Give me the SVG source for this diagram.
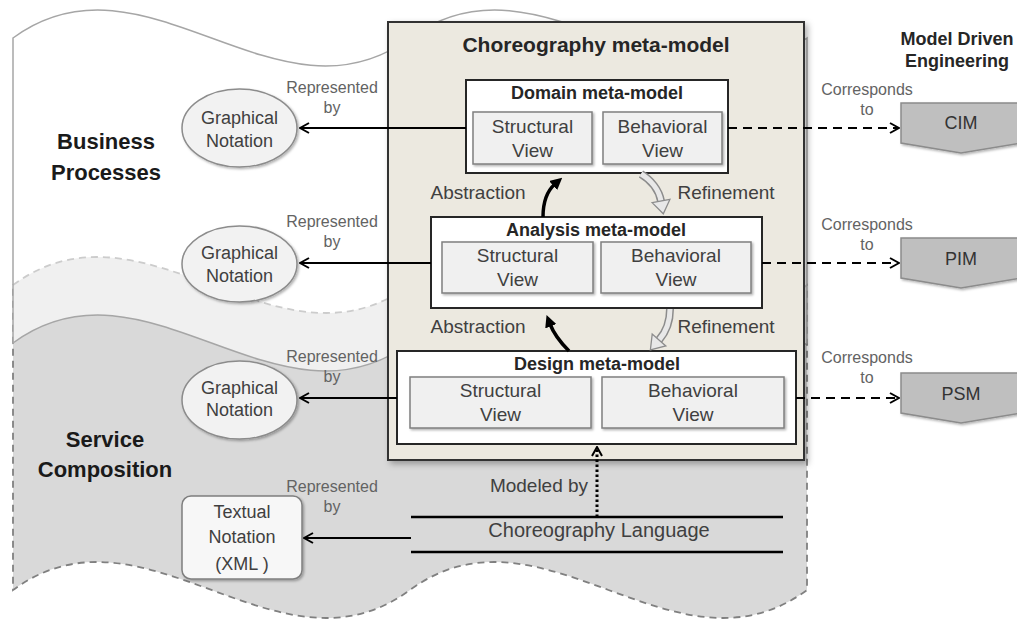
<svg xmlns="http://www.w3.org/2000/svg" width="1017" height="622" viewBox="0 0 1017 622">
<defs>
<style>
text{font-family:"Liberation Sans",Arial,sans-serif}
.ttl{font-weight:bold;fill:#262626;text-anchor:middle}
.view{font-size:19px;fill:#404040;text-anchor:middle}
.lbl{font-size:16px;fill:#636363;text-anchor:middle}
.note{font-size:18px;fill:#404040;text-anchor:middle}
.reg{font-size:22px;font-weight:bold;fill:#1a1a1a;text-anchor:middle}
.mm{fill:#ffffff;stroke:#262626;stroke-width:2}
.vw{fill:#f0f0f0;stroke:#7f7f7f;stroke-width:1.5}
.ell{fill:#f2f2f2;stroke:#8c8c8c;stroke-width:1.5}
.pent{fill:#bfbfbf;stroke:#8c8c8c;stroke-width:1.5}
.arr{fill:none;stroke:#000;stroke-width:2}
.dash{fill:none;stroke:#000;stroke-width:2.2;stroke-dasharray:9 6}
.rout{fill:none;stroke:#8c8c8c;stroke-width:8}
.rin{fill:none;stroke:#e8e8e8;stroke-width:5}
.rhead{fill:#e8e8e8;stroke:#8c8c8c;stroke-width:1.3}
</style>
<filter id="sh" x="-5%" y="-5%" width="115%" height="115%"><feDropShadow dx="3" dy="3" stdDeviation="3" flood-color="#000" flood-opacity="0.3"/></filter>
<filter id="sh2" x="-10%" y="-10%" width="130%" height="130%"><feDropShadow dx="1.5" dy="1.5" stdDeviation="1" flood-color="#000" flood-opacity="0.3"/></filter>
<marker id="open" viewBox="0 0 12 12" refX="11" refY="6" markerWidth="12" markerHeight="12" markerUnits="userSpaceOnUse" orient="auto"><path d="M2,1 L11,6 L2,11" fill="none" stroke="#000" stroke-width="2"/></marker>
<marker id="solid" viewBox="0 0 10 10" refX="2" refY="5" markerWidth="12" markerHeight="12" markerUnits="userSpaceOnUse" orient="auto"><path d="M0,0 L10,5 L0,10 z" fill="#000"/></marker>
</defs>

<!-- background regions -->
<path id="service-region" d="M13,285 C145.3,188 277.7,382 410,285 C542.3,188 674.7,382 807,285 L807,590 C674.7,687 542.3,493 410,590 C277.7,687 145.3,493 13,590 Z" fill="#d9d9d9" stroke="#808080" stroke-width="1.8" stroke-dasharray="7 5"/>
<path id="business-region" d="M13,38 C145.3,-59 277.7,135 410,38 C542.3,-59 674.7,135 807,38 L807,343 C674.7,440 542.3,246 410,343 C277.7,440 145.3,246 13,343 Z" fill="#ffffff" fill-opacity="0.6" stroke="#a6a6a6" stroke-width="1.5"/>

<g id="business-processes-label">
<text class="reg" x="106" y="149">Business</text>
<text class="reg" x="106" y="180">Processes</text>
</g>
<g id="service-composition-label">
<text class="reg" x="105" y="447">Service</text>
<text class="reg" x="105" y="477">Composition</text>
</g>
<g id="mde-label">
<text class="ttl" style="font-size:18px" x="957" y="45">Model Driven</text>
<text class="ttl" style="font-size:18px" x="957" y="67">Engineering</text>
</g>

<g id="choreography-metamodel">
<rect x="388" y="22" width="416" height="438" fill="#ece9e0" stroke="#333" stroke-width="2" filter="url(#sh)"/>
<text class="ttl" style="font-size:21px" x="596" y="52">Choreography meta-model</text>
</g>

<g id="domain-metamodel">
<rect class="mm" x="466" y="80" width="262" height="93"/>
<text class="ttl" style="font-size:18px" x="597" y="99">Domain meta-model</text>
<rect class="vw" x="473" y="112" width="119" height="52" filter="url(#sh2)"/>
<text class="view" x="532.5" y="133">Structural</text>
<text class="view" x="532.5" y="157">View</text>
<rect class="vw" x="603" y="112" width="119" height="52" filter="url(#sh2)"/>
<text class="view" x="662.5" y="133">Behavioral</text>
<text class="view" x="662.5" y="157">View</text>
</g>

<g id="analysis-metamodel">
<rect class="mm" x="431" y="217" width="331" height="91"/>
<text class="ttl" style="font-size:18px" x="596" y="236">Analysis meta-model</text>
<rect class="vw" x="442" y="242" width="151" height="51" filter="url(#sh2)"/>
<text class="view" x="517.5" y="262">Structural</text>
<text class="view" x="517.5" y="286">View</text>
<rect class="vw" x="601" y="242" width="150" height="51" filter="url(#sh2)"/>
<text class="view" x="676" y="262">Behavioral</text>
<text class="view" x="676" y="286">View</text>
</g>

<g id="design-metamodel">
<rect class="mm" x="397" y="351" width="399" height="93"/>
<text class="ttl" style="font-size:18px" x="597" y="370">Design meta-model</text>
<rect class="vw" x="410" y="377" width="181" height="51" filter="url(#sh2)"/>
<text class="view" x="500.5" y="397">Structural</text>
<text class="view" x="500.5" y="421">View</text>
<rect class="vw" x="602" y="377" width="182" height="51" filter="url(#sh2)"/>
<text class="view" x="693" y="397">Behavioral</text>
<text class="view" x="693" y="421">View</text>
</g>

<g id="graphical-notation-1">
<ellipse class="ell" cx="239.5" cy="128" rx="57.5" ry="39" filter="url(#sh2)"/>
<text class="note" x="239.5" y="124">Graphical</text>
<text class="note" x="239.5" y="147">Notation</text>
</g>
<g id="graphical-notation-2">
<ellipse class="ell" cx="239.5" cy="264" rx="57.5" ry="38" filter="url(#sh2)"/>
<text class="note" x="239.5" y="259">Graphical</text>
<text class="note" x="239.5" y="282">Notation</text>
</g>
<g id="graphical-notation-3">
<ellipse class="ell" cx="239.5" cy="400" rx="57.5" ry="39" filter="url(#sh2)"/>
<text class="note" x="239.5" y="394">Graphical</text>
<text class="note" x="239.5" y="416">Notation</text>
</g>
<g id="textual-notation">
<rect x="182" y="496" width="120" height="83" rx="9" fill="#f7f7f7" stroke="#7f7f7f" stroke-width="1.5" filter="url(#sh2)"/>
<text class="note" x="242" y="518">Textual</text>
<text class="note" x="242" y="543">Notation</text>
<text class="note" x="242" y="570">(XML )</text>
</g>

<g id="cim">
<polygon class="pent" points="901,103 1022,103 1022,143 961,153 901,143" filter="url(#sh2)"/>
<text class="note" style="fill:#333" x="961" y="129">CIM</text>
</g>
<g id="pim">
<polygon class="pent" points="901,238 1022,238 1022,278 961,288 901,278" filter="url(#sh2)"/>
<text class="note" style="fill:#333" x="961" y="265">PIM</text>
</g>
<g id="psm">
<polygon class="pent" points="901,373 1022,373 1022,413 961,423 901,413" filter="url(#sh2)"/>
<text class="note" style="fill:#333" x="961" y="400">PSM</text>
</g>

<g id="choreography-language">
<line x1="411" y1="517" x2="783" y2="517" stroke="#000" stroke-width="2.5"/>
<line x1="411" y1="552" x2="783" y2="552" stroke="#000" stroke-width="2.5"/>
<text x="599" y="537" style="font-size:20px;fill:#404040;text-anchor:middle">Choreography Language</text>
</g>

<g id="connectors">
<line class="arr" x1="466" y1="128" x2="300" y2="128" marker-end="url(#open)"/>
<line class="arr" x1="431" y1="263" x2="300" y2="263" marker-end="url(#open)"/>
<line class="arr" x1="397" y1="398" x2="300" y2="398" marker-end="url(#open)"/>
<line class="arr" x1="411" y1="538" x2="304" y2="538" marker-end="url(#open)"/>
<line class="dash" x1="728" y1="128" x2="899" y2="128" marker-end="url(#open)"/>
<line class="dash" x1="762" y1="263" x2="899" y2="263" marker-end="url(#open)"/>
<line class="dash" x1="796" y1="398" x2="899" y2="398" marker-end="url(#open)"/>
<line x1="597" y1="517" x2="597" y2="447" fill="none" stroke="#000" stroke-width="3" stroke-dasharray="2.5 2.5" marker-end="url(#open)"/>
<path d="M543,217 C543,202 547,191 555,184" fill="none" stroke="#000" stroke-width="3.5" marker-end="url(#solid)"/>
<path d="M569,351 Q555,337 550,324" fill="none" stroke="#000" stroke-width="3.5" marker-end="url(#solid)"/>
<path class="rout" d="M641,174 C651,180 659,190 661,201"/>
<path class="rin" d="M641,174 C651,180 659,190 661,201"/>
<polygon class="rhead" points="652.1,202.6 663.3,213.8 669.9,199.4"/>
<path class="rout" d="M670,309 C670,322 666,332 659,340"/>
<path class="rin" d="M670,309 C670,322 666,332 659,340"/>
<polygon class="rhead" points="652.2,334.1 650.4,349.8 665.8,345.9"/>
</g>

<g id="connector-labels">
<text class="lbl" x="332" y="93">Represented</text>
<text class="lbl" x="332" y="113">by</text>
<text class="lbl" x="332" y="227">Represented</text>
<text class="lbl" x="332" y="247">by</text>
<text class="lbl" x="332" y="362">Represented</text>
<text class="lbl" x="332" y="382">by</text>
<text class="lbl" x="332" y="492">Represented</text>
<text class="lbl" x="332" y="512">by</text>
<text class="lbl" x="867" y="95">Corresponds</text>
<text class="lbl" x="867" y="115">to</text>
<text class="lbl" x="867" y="230">Corresponds</text>
<text class="lbl" x="867" y="250">to</text>
<text class="lbl" x="867" y="363">Corresponds</text>
<text class="lbl" x="867" y="383">to</text>
<text class="view" x="478" y="199">Abstraction</text>
<text class="view" x="726" y="199">Refinement</text>
<text class="view" x="478" y="333">Abstraction</text>
<text class="view" x="726" y="333">Refinement</text>
<text class="view" x="539" y="492">Modeled by</text>
</g>
</svg>
